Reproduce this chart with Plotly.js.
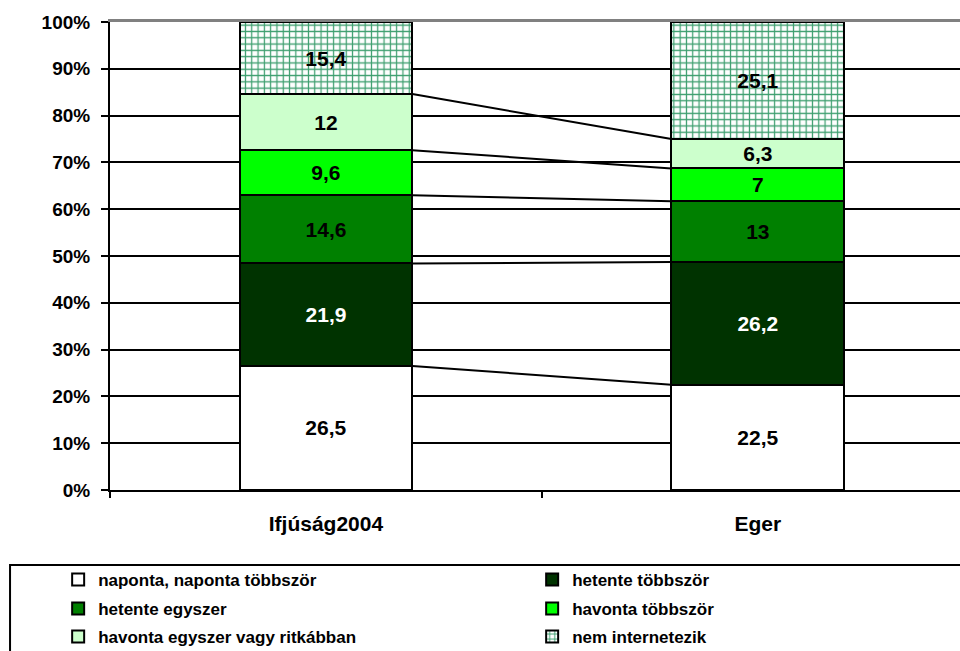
<!DOCTYPE html>
<html><head><meta charset="utf-8">
<script src="https://cdn.plot.ly/plotly-3.0.1.min.js"></script>
<style>html,body{margin:0;padding:0;overflow:hidden;background:#fff}</style>
</head><body><div id="chart" style="width:960px;height:651px"></div>
<script>
const categories = ['Ifjúság2004', 'Eger'];
const seriesNames = ['naponta, naponta többször', 'hetente többször', 'hetente egyszer', 'havonta többször', 'havonta egyszer vagy ritkábban', 'nem internetezik'];
const naponta = [26.5, 22.5];
const hetenteTobbszor = [21.9, 26.2];
const hetenteEgyszer = [14.6, 13];
const havontaTobbszor = [9.6, 7];
const havontaEgyszer = [12, 6.3];
const nemInternetezik = [15.4, 25.1];
const yTicks = [0,10,20,30,40,50,60,70,80,90,100];
const yTickLabels = ['0%','10%','20%','30%','40%','50%','60%','70%','80%','90%','100%'];

const series = [naponta, hetenteTobbszor, hetenteEgyszer, havontaTobbszor, havontaEgyszer, nemInternetezik];
const fills = ['#FFFFFF', '#003300', '#008000', '#00FF00', '#CCFFCC', '#FFFFFF'];
const textColors = ['#000', '#fff', '#000', '#000', '#000', '#000'];
const legendIds = ['legend', 'legend', 'legend2', 'legend2', 'legend3', 'legend3'];
const barWidth = 0.4;
const FONT = 'Liberation Sans, Arial, sans-serif';

const fmt = v => String(v).replace('.', ',');
const traces = series.map((vals, i) => {
  const t = {
    type: 'bar', name: seriesNames[i], x: categories, y: vals,
    width: barWidth,
    text: vals.map(fmt), textposition: 'inside', insidetextanchor: 'middle',
    constraintext: 'none',
    textfont: {family: FONT, size: 21, color: textColors[i], weight: 'bold'},
    marker: {color: fills[i], line: {color: '#000', width: 2}},
    legend: legendIds[i], hoverinfo: 'skip'
  };
  if (i === 5) {
    t.marker.pattern = {shape: '+', fgcolor: '#3C9E6E', bgcolor: '#FFFFFF', size: 6.3, solidity: 0.35, fillmode: 'replace'};
  }
  return t;
});

// series lines connecting cumulative boundaries
const cum = [0, 0];
for (let i = 0; i < series.length - 1; i++) {
  cum[0] += series[i][0]; cum[1] += series[i][1];
  traces.push({
    type: 'scatter', mode: 'lines', xaxis: 'x2', yaxis: 'y',
    x: [0 + barWidth / 2, 1 - barWidth / 2], y: [cum[0], cum[1]],
    line: {color: '#000', width: 2}, showlegend: false, hoverinfo: 'skip'
  });
}

const legendBase = {
  orientation: 'h', xanchor: 'left', yanchor: 'middle', x: -0.061,
  font: {family: FONT, size: 17, color: '#000', weight: 'bold'},
  entrywidth: 429, entrywidthmode: 'pixels', bgcolor: 'rgba(0,0,0,0)',
  traceorder: 'normal', itemclick: false, itemdoubleclick: false
};

const layout = {
  width: 960, height: 651,
  margin: {l: 110, r: 0, t: 22, b: 161, autoexpand: false},
  paper_bgcolor: '#fff', plot_bgcolor: '#fff',
  barmode: 'stack', showlegend: true,
  font: {family: FONT, color: '#000'},
  xaxis: {
    type: 'category', range: [-0.5, 1.468], tickson: 'boundaries',
    ticks: 'outside', ticklen: 6, tickwidth: 2, tickcolor: '#000',
    showline: true, linecolor: '#000', linewidth: 2, showgrid: false,
    ticklabelstandoff: 14, automargin: false,
    tickfont: {family: FONT, size: 21, color: '#000', weight: 'bold'}
  },
  xaxis2: {
    overlaying: 'x', range: [-0.5, 1.468], side: 'top', showgrid: false,
    showticklabels: false, ticks: '', zeroline: false,
    showline: true, linecolor: '#808080', linewidth: 3, layer: 'below traces'
  },
  yaxis: {
    range: [0, 100], tickmode: 'array', tickvals: yTicks, ticktext: yTickLabels,
    ticks: 'outside', ticklen: 7, tickwidth: 2, tickcolor: '#000',
    showline: true, linecolor: '#000', linewidth: 2,
    showgrid: true, gridcolor: '#000', gridwidth: 2, zeroline: false,
    ticklabelstandoff: 7, automargin: false,
    tickfont: {family: FONT, size: 19, color: '#000', weight: 'bold'}
  },
  legend: Object.assign({}, legendBase, {y: -0.1923}),
  legend2: Object.assign({}, legendBase, {y: -0.2543}),
  legend3: Object.assign({}, legendBase, {y: -0.3141}),
  shapes: [{
    type: 'rect', xref: 'paper', yref: 'paper',
    x0: -0.1176, x1: 1.02, y0: -0.1603, y1: -0.40,
    line: {color: '#000', width: 2}, fillcolor: 'rgba(0,0,0,0)', layer: 'below'
  }]
};

Plotly.newPlot('chart', traces, layout, {displayModeBar: false, staticPlot: true});
</script></body></html>
